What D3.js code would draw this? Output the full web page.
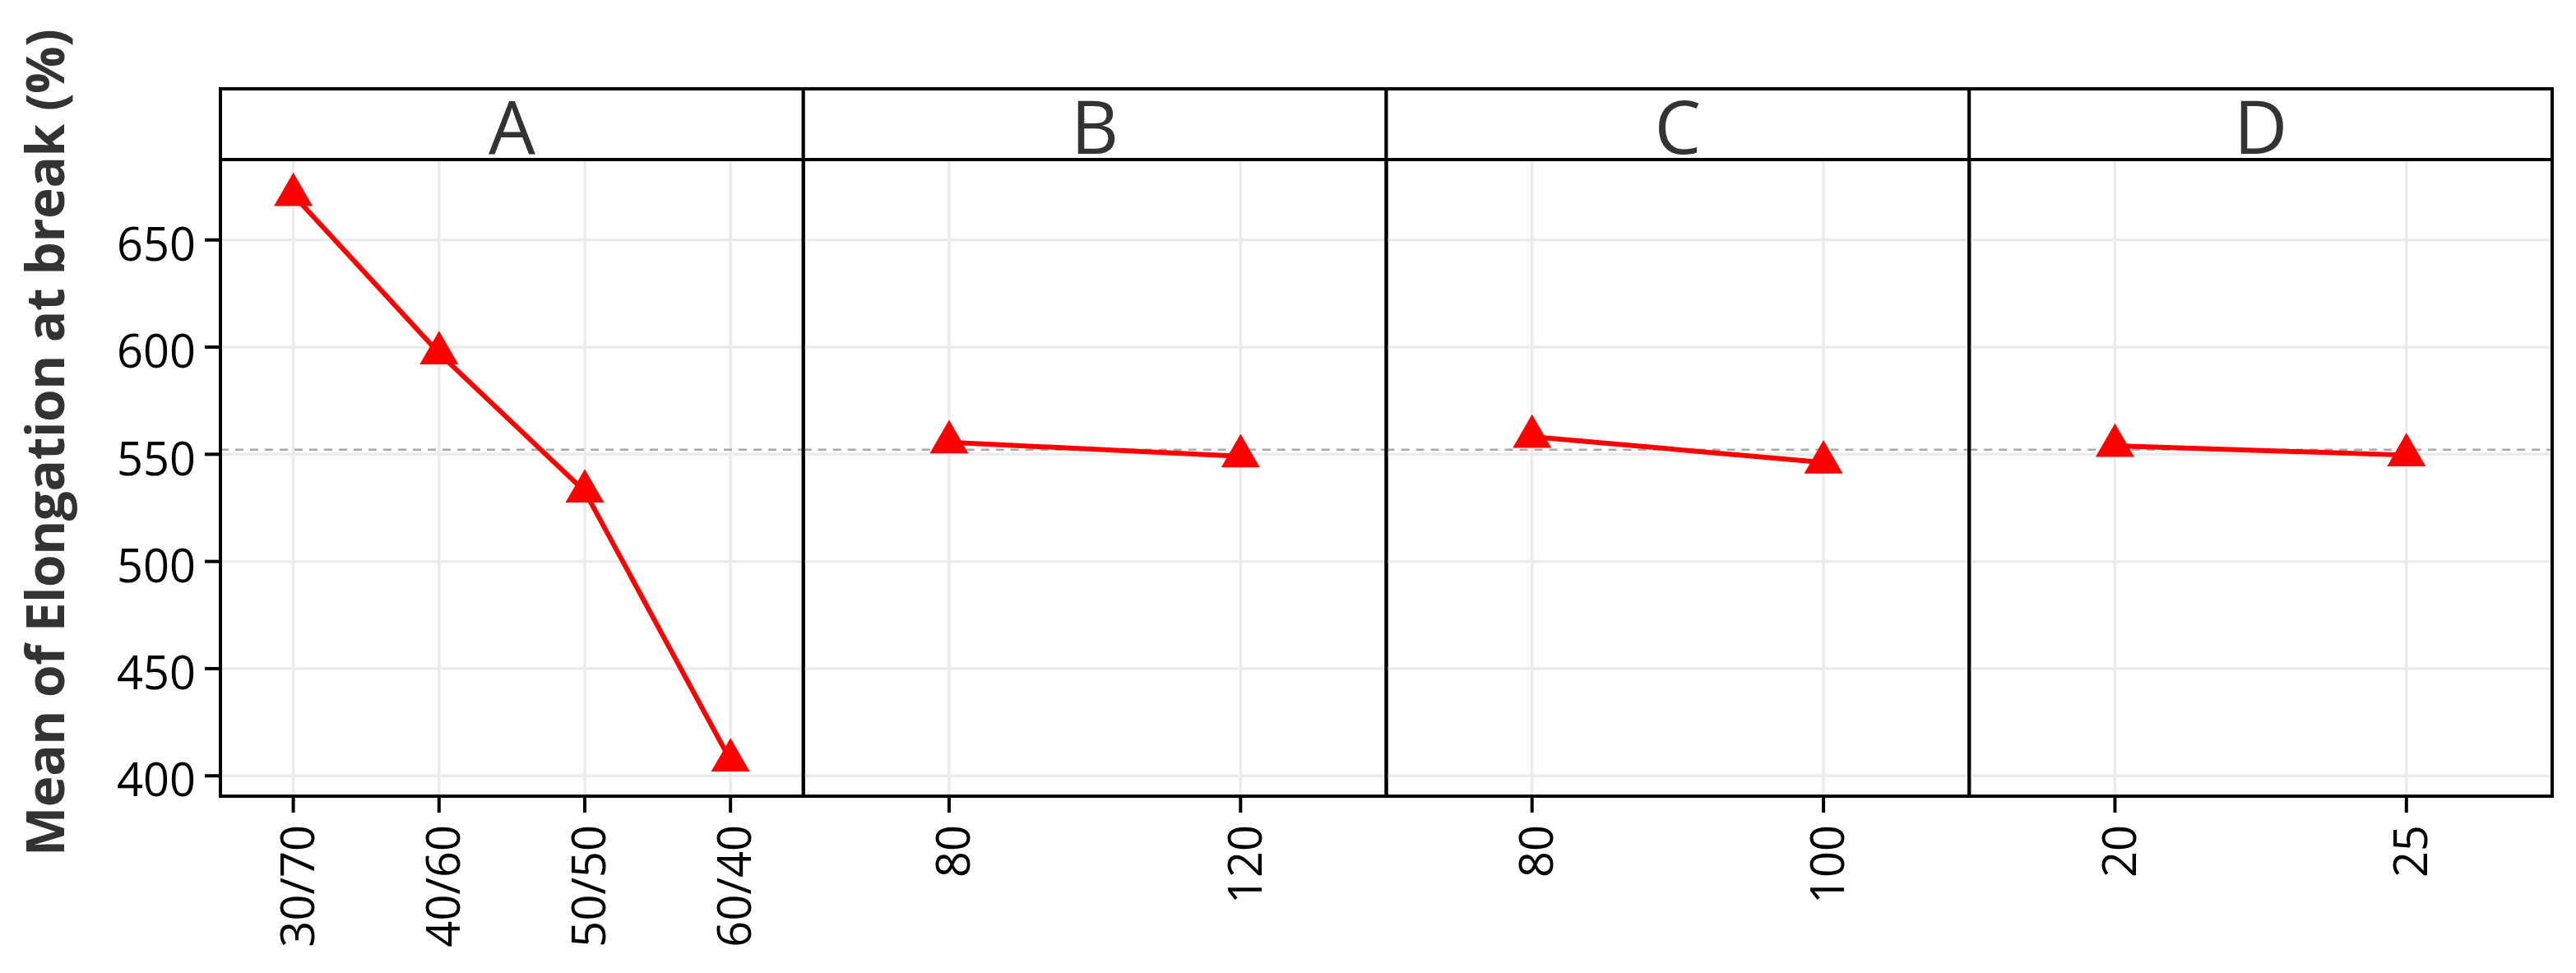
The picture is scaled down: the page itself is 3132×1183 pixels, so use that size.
<!DOCTYPE html>
<html>
<head>
<meta charset="utf-8">
<script src="https://cdn.jsdelivr.net/npm/d3@7"></script>
<style>
body { margin: 0; background: #fff; }
text { font-family: "Open Sans", "Noto Sans", sans-serif; }
</style>
</head>
<body>
<svg id="chart" width="3132" height="1183"></svg>
<script>

// main effects data, one small array per factor
var factors = ["A", "B", "C", "D"];
var levelsA = ["30/70", "40/60", "50/50", "60/40"];
var levelsB = ["80", "120"];
var levelsC = ["80", "100"];
var levelsD = ["20", "25"];
var meansA = [671.0, 597.2, 532.7, 407.2];
var meansB = [555.6, 549.1];
var meansC = [558.2, 546.2];
var meansD = [554.0, 549.6];
var grandMean = 552.1;
var yTicks = [400, 450, 500, 550, 600, 650];
var yDomain = [390.5, 687.5];
var yTitle = "Mean of Elongation at break (%)";

var panels = [
    {name: factors[0], levels: levelsA, means: meansA},
    {name: factors[1], levels: levelsB, means: meansB},
    {name: factors[2], levels: levelsC, means: meansC},
    {name: factors[3], levels: levelsD, means: meansD}
];

var svg = d3.select("#chart"),
    left = 268,
    right = 3103,
    stripTop = 108,
    panelTop = 194,
    panelBottom = 968,
    pw = (right - left) / panels.length;

var y = d3.scaleLinear().domain(yDomain).range([panelBottom, panelTop]);

var line = d3.line()
    .x(function(d) { return d.x; })
    .y(function(d) { return y(d.v); });

var tri = d3.symbol().type(d3.symbolTriangle).size(957);

panels.forEach(function(p, i) {
    var x = d3.scalePoint().domain(p.levels).range([0, pw]).padding(0.5);
    var g = svg.append("g").attr("transform", "translate(" + (left + i * pw) + ",0)");

    // grid
    g.append("g").selectAll("line").data(yTicks).enter().append("line")
        .attr("x1", 0).attr("x2", pw)
        .attr("y1", function(d) { return y(d); })
        .attr("y2", function(d) { return y(d); })
        .attr("stroke", "#ebebeb").attr("stroke-width", 3.5);
    g.append("g").selectAll("line").data(p.levels).enter().append("line")
        .attr("x1", function(d) { return x(d); })
        .attr("x2", function(d) { return x(d); })
        .attr("y1", panelTop).attr("y2", panelBottom)
        .attr("stroke", "#ebebeb").attr("stroke-width", 3.5);

    // grand mean
    g.append("line")
        .attr("x1", 0).attr("x2", pw)
        .attr("y1", y(grandMean)).attr("y2", y(grandMean))
        .attr("stroke", "#a8a8a8").attr("stroke-width", 2.5)
        .attr("stroke-dasharray", "10,8");

    var pts = p.levels.map(function(l, j) { return {x: x(l), v: p.means[j]}; });

    g.append("path").datum(pts)
        .attr("d", line)
        .attr("fill", "none")
        .attr("stroke", "#ff0000")
        .attr("stroke-width", 6);

    g.append("g").selectAll("path").data(pts).enter().append("path")
        .attr("d", tri)
        .attr("transform", function(d) { return "translate(" + d.x + "," + y(d.v) + ")"; })
        .attr("fill", "#ff0000");

    // panel border and strip
    g.append("rect")
        .attr("x", 0).attr("y", panelTop)
        .attr("width", pw).attr("height", panelBottom - panelTop)
        .attr("fill", "none").attr("stroke", "#000").attr("stroke-width", 4);
    g.append("rect")
        .attr("x", 0).attr("y", stripTop)
        .attr("width", pw).attr("height", panelTop - stripTop)
        .attr("fill", "#fff").attr("stroke", "#000").attr("stroke-width", 4);
    g.append("text")
        .attr("x", pw / 2).attr("y", 187)
        .attr("text-anchor", "middle")
        .attr("font-size", 90)
        .attr("fill", "#333")
        .text(p.name);

    // x axis ticks + rotated labels
    var xt = g.append("g").selectAll("g").data(p.levels).enter().append("g");
    xt.append("line")
        .attr("x1", function(d) { return x(d); })
        .attr("x2", function(d) { return x(d); })
        .attr("y1", panelBottom).attr("y2", panelBottom + 20)
        .attr("stroke", "#000").attr("stroke-width", 4);
    xt.append("text")
        .attr("transform", function(d) { return "translate(" + x(d) + ",1003) rotate(-90)"; })
        .attr("text-anchor", "end")
        .attr("dy", "0.45em")
        .attr("font-size", 56)
        .attr("fill", "#000")
        .text(function(d) { return d; });
});

// y axis on first panel only
var yt = svg.append("g").selectAll("g").data(yTicks).enter().append("g");
yt.append("line")
    .attr("x1", left - 19).attr("x2", left)
    .attr("y1", function(d) { return y(d); })
    .attr("y2", function(d) { return y(d); })
    .attr("stroke", "#000").attr("stroke-width", 4);
yt.append("text")
    .attr("x", left - 30)
    .attr("y", function(d) { return y(d); })
    .attr("dy", "0.45em")
    .attr("text-anchor", "end")
    .attr("font-size", 56)
    .attr("fill", "#000")
    .text(function(d) { return d; });

var title = svg.append("text")
    .attr("transform", "translate(78," + ((stripTop + panelBottom) / 2) + ") rotate(-90)")
    .attr("text-anchor", "middle")
    .attr("font-size", 64)
    .attr("font-weight", "bold")
    .attr("fill", "#333")
    .text(yTitle);
if (title.node().getComputedTextLength() > 1006) {
    title.attr("textLength", 1006).attr("lengthAdjust", "spacing");
}

</script>
</body>
</html>
